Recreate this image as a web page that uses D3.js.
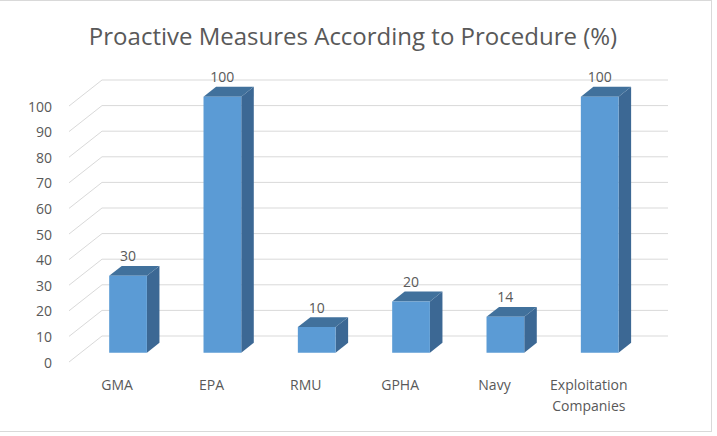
<!DOCTYPE html>
<html>
<head>
<meta charset="utf-8">
<script src="https://cdn.jsdelivr.net/npm/d3@7"></script>
<style>
  body { margin: 0; background: #fff; }
  text { font-family: "Open Sans", sans-serif; fill: #595959; }
</style>
</head>
<body>
<svg id="chart" width="717" height="436"></svg>
<script>
const categories = ["GMA", "EPA", "RMU", "GPHA", "Navy", "Exploitation Companies"];
const values = [30, 100, 10, 20, 14, 100];
const tickValues = [0, 10, 20, 30, 40, 50, 60, 70, 80, 90, 100];
const title = "Proactive Measures According to Procedure (%)";

const svg = d3.select("#chart");

// depth offset of the back wall
const DX = 33, DY = 26;
const zFront = 0.36, zBack = 0.74;

const x = d3.scaleBand().domain(categories).range([69, 635]);
const y = d3.scaleLinear().domain([0, 100]).range([362, 106]);

function p(px, v, z) {
    return [px + z * DX, y(v) - z * DY];
}

// chart border (left edge sits outside the picture)
svg.append("rect")
    .attr("x", -1).attr("y", 0.5)
    .attr("width", 712.5).attr("height", 431)
    .attr("fill", "#fff").attr("stroke", "#d9d9d9");

svg.append("text")
    .attr("x", 353).attr("y", 35)
    .attr("text-anchor", "middle")
    .attr("dominant-baseline", "central")
    .style("font-size", "24px")
    .text(title);

// gridlines: diagonal side + back wall
const grid = svg.append("g").attr("stroke", "#d9d9d9").attr("stroke-width", 1).attr("fill", "none");
const x0 = x.range()[0], x1 = x.range()[1];
tickValues.forEach(t => {
    const a = p(x0, t, 0), b = p(x0, t, 1), c = p(x1, t, 1);
    grid.append("path").attr("d", `M${a[0]},${a[1]}L${b[0]},${b[1]}L${c[0]},${c[1]}`);
});

// y tick labels
svg.append("g").selectAll("text")
    .data(tickValues)
    .join("text")
    .attr("x", 52)
    .attr("y", d => y(d))
    .attr("text-anchor", "end")
    .attr("dominant-baseline", "central")
    .style("font-size", "14px")
    .text(d => d);

// bars
const bw = x.bandwidth() * 0.4;
const bars = svg.append("g");
categories.forEach((c, i) => {
    const v = values[i];
    const left = x(c) + (x.bandwidth() - bw) / 2;
    const right = left + bw;
    const fl0 = p(left, 0, zFront), fr0 = p(right, 0, zFront);
    const fl1 = p(left, v, zFront), fr1 = p(right, v, zFront);
    const br0 = p(right, 0, zBack), br1 = p(right, v, zBack), bl1 = p(left, v, zBack);
    const poly = pts => "M" + pts.map(q => q.join(",")).join("L") + "Z";
    bars.append("path").attr("d", poly([fr0, br0, br1, fr1])).attr("fill", "#3c6894");
    bars.append("path").attr("d", poly([fl1, fr1, br1, bl1])).attr("fill", "#41719c");
    bars.append("path").attr("d", poly([fl0, fr0, fr1, fl1])).attr("fill", "#5b9bd5");

    svg.append("text")
        .attr("x", (fl1[0] + fr1[0]) / 2)
        .attr("y", br1[1] - 10)
        .attr("text-anchor", "middle")
        .attr("dominant-baseline", "central")
        .style("font-size", "14px")
        .text(v);
});

// category labels (wrap long names)
categories.forEach(c => {
    const words = c.split(" ");
    const cx = x(c) + x.bandwidth() / 2 + 1;
    const t = svg.append("text")
        .attr("x", cx)
        .attr("y", 384)
        .attr("text-anchor", "middle")
        .attr("dominant-baseline", "central")
        .style("font-size", "14px");
    words.forEach((w, j) => {
        t.append("tspan")
            .attr("x", cx)
            .attr("dy", j === 0 ? 0 : 21)
            .text(w);
    });
});
</script>
</body>
</html>
